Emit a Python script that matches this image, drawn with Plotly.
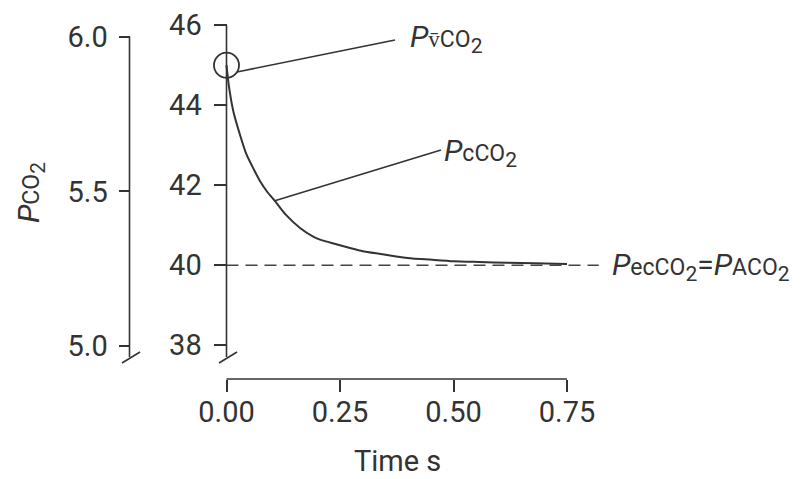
import plotly.graph_objects as go

# ---- data ----
time_s = [0, 0.005, 0.015, 0.03, 0.044, 0.06, 0.074, 0.09, 0.107, 0.13, 0.162, 0.19,
          0.206, 0.24, 0.272, 0.30, 0.34, 0.374, 0.41, 0.448, 0.5, 0.557, 0.62, 0.68, 0.75]
pc_co2 = [45.0, 44.5, 43.85, 43.25, 42.77, 42.4, 42.1, 41.83, 41.6, 41.27, 40.93, 40.72,
          40.64, 40.53, 40.43, 40.35, 40.28, 40.22, 40.17, 40.14, 40.1, 40.08, 40.06, 40.05, 40.03]
eq_time = [0, 0.82]
eq_co2 = [40, 40]
venous_time = [0]
venous_co2 = [45]
x_ticks = [0, 0.25, 0.5, 0.75]
x_ticktext = ["0.00", "0.25", "0.50", "0.75"]
mmhg_ticks = [38, 40, 42, 44, 46]
kpa_ticks = [5.0, 5.5, 6.0]
kpa_ticktext = ["5.0", "5.5", "6.0"]

W, H = 802, 479
INK = "#333333"
FONT = "Roboto"

# pixel helpers (layout only)
def X(px):
    return (px - 226.5) / 454.0
def Y(py):
    return 42 - (py - 185.2) / 40.0
def Y2(py):
    return 5.0 - (py - 346.0) / 309.3

fig = go.Figure()

fig.add_trace(go.Scatter(x=eq_time, y=eq_co2, mode="lines",
                         line=dict(color="#444444", width=1.5, dash="12px,7px"),
                         hoverinfo="skip", showlegend=False))
fig.add_trace(go.Scatter(x=time_s, y=pc_co2, mode="lines",
                         line=dict(color=INK, width=2, shape="spline", smoothing=0.6),
                         showlegend=False))
fig.add_trace(go.Scatter(x=venous_time, y=venous_co2, mode="markers",
                         marker=dict(symbol="circle-open", size=25, color=INK,
                                     line=dict(width=1.8, color=INK)),
                         showlegend=False))
# dummy trace to activate second y axis
fig.add_trace(go.Scatter(x=[None], y=[None], yaxis="y2", showlegend=False))

shapes = []
line_style = dict(color=INK, width=1.6)
# x axis line
shapes.append(dict(type="line", xref="x", yref="paper", x0=0, x1=0.75,
                   y0=(H - 379) / H, y1=(H - 379) / H, line=line_style))
# inner y axis line and break
shapes.append(dict(type="line", xref="x", yref="y", x0=0, x1=0, y0=46, y1=Y(357), line=line_style))
shapes.append(dict(type="line", xref="x", yref="y", x0=X(219), x1=X(237), y0=Y(363), y1=Y(352), line=line_style))
# outer y axis line and break
shapes.append(dict(type="line", xref="paper", yref="y2", x0=129.5 / W, x1=129.5 / W, y0=6.0, y1=Y2(357), line=line_style))
shapes.append(dict(type="line", xref="paper", yref="y2", x0=122 / W, x1=140 / W, y0=Y2(363), y1=Y2(352), line=line_style))
# leader lines
shapes.append(dict(type="line", xref="x", yref="y", x0=X(237), y0=Y(72), x1=X(395), y1=Y(40), line=line_style))
shapes.append(dict(type="line", xref="x", yref="y", x0=X(274), y0=Y(201), x1=X(441), y1=Y(150), line=line_style))

small = "font-size:23px"
annotations = [
    dict(text=f"<i>P</i><span style='{small}'>v̄CO</span><sub>2</sub>", x=X(408), y=Y(38),
         xref="x", yref="y", xanchor="left", yanchor="middle", showarrow=False,
         font=dict(family=FONT, size=30, color=INK)),
    dict(text=f"<i>P</i><span style='{small}'>cCO</span><sub>2</sub>", x=X(442), y=Y(152),
         xref="x", yref="y", xanchor="left", yanchor="middle", showarrow=False,
         font=dict(family=FONT, size=30, color=INK)),
    dict(text=f"<i>P</i><span style='{small}'>ecCO</span><sub>2</sub>=<i>P</i><span style='{small}'>ACO</span><sub>2</sub>",
         x=610 / W, y=(H - 266) / H, xref="paper", yref="paper", xanchor="left", yanchor="middle",
         showarrow=False, font=dict(family=FONT, size=30, color=INK)),
    dict(text=f"<i>P</i><span style='{small}'>CO</span><sub>2</sub>", x=30 / W, y=(H - 193) / H,
         xref="paper", yref="paper", xanchor="center", yanchor="middle", textangle=-90,
         showarrow=False, font=dict(family=FONT, size=30, color=INK)),
    dict(text="Time s", x=397 / W, y=(H - 461) / H, xref="paper", yref="paper",
         xanchor="center", yanchor="middle",
         showarrow=False, font=dict(family=FONT, size=29, color=INK)),
]

fig.update_layout(
    width=W, height=H,
    margin=dict(l=0, r=0, t=0, b=0),
    paper_bgcolor="white", plot_bgcolor="white",
    font=dict(family=FONT, color=INK, size=29),
    shapes=shapes, annotations=annotations,
    xaxis=dict(domain=[0, 1], range=[X(0), X(W)], anchor="free", position=(H - 379) / H,
               showgrid=False, zeroline=False, showline=False,
               tickmode="array", tickvals=x_ticks, ticktext=x_ticktext,
               ticks="outside", ticklen=12, tickwidth=1.6, tickcolor=INK,
               ticklabelstandoff=-5,
               tickfont=dict(family=FONT, size=29, color=INK)),
    yaxis=dict(domain=[0, 1], range=[Y(H), Y(0)], anchor="free", position=226.5 / W,
               showgrid=False, zeroline=False, showline=False,
               tickmode="array", tickvals=mmhg_ticks,
               ticks="outside", ticklen=13, tickwidth=1.6, tickcolor=INK,
               ticklabelstandoff=6,
               tickfont=dict(family=FONT, size=29, color=INK)),
    yaxis2=dict(range=[Y2(H), Y2(0)], overlaying="y", anchor="free", position=129.5 / W,
                side="left", showgrid=False, zeroline=False, showline=False,
                tickmode="array", tickvals=kpa_ticks, ticktext=kpa_ticktext,
                ticks="outside", ticklen=11, tickwidth=1.6, tickcolor=INK,
                ticklabelstandoff=5,
                tickfont=dict(family=FONT, size=29, color=INK)),
)

fig.write_html("out.html")
